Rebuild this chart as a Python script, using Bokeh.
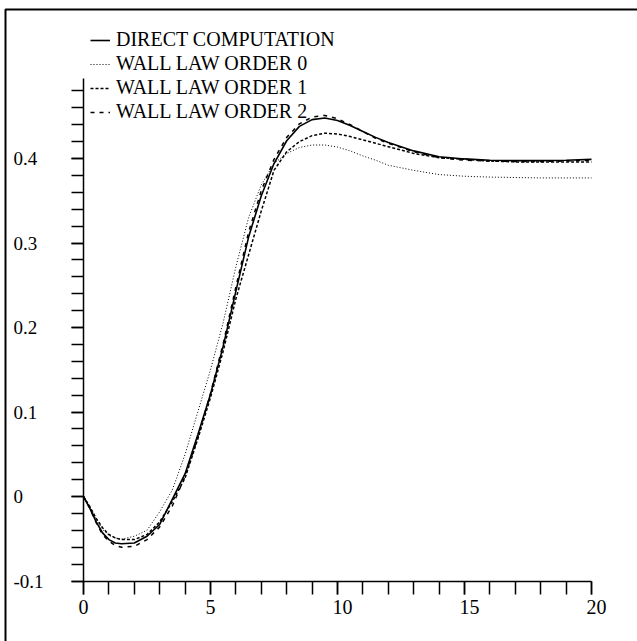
from bokeh.plotting import figure
from bokeh.models import (Range1d, SingleIntervalTicker, CustomJSTickFormatter, Label,
                          Legend, LegendItem, BoxAnnotation)
from bokeh.embed import file_html
from bokeh.resources import INLINE

# ---------------- data ----------------
x_vals = [0, 0.25, 0.5, 0.75, 1.0, 1.25, 1.5, 2.0, 2.5, 3.0, 3.5, 4.0, 4.5, 5.0, 5.5,
          6.0, 6.5, 7.0, 7.5, 8.0, 8.5, 9.0, 9.5, 10.0, 10.5, 11.0, 11.5, 12.0, 13.0,
          14.0, 15.0, 16.0, 17.0, 18.0, 19.0, 20.0]

direct = [0, -0.014, -0.030, -0.043, -0.051, -0.055, -0.056, -0.055, -0.047, -0.033,
          -0.003, 0.027, 0.073, 0.121, 0.178, 0.243, 0.307, 0.356, 0.394, 0.421, 0.438,
          0.446, 0.448, 0.445, 0.439, 0.432, 0.425, 0.419, 0.409, 0.402, 0.3995, 0.398,
          0.3975, 0.3975, 0.398, 0.399]

order0 = [0, -0.012, -0.027, -0.039, -0.046, -0.049, -0.0505, -0.047, -0.040, -0.018,
          0.008, 0.050, 0.100, 0.150, 0.206, 0.272, 0.330, 0.369, 0.394, 0.406, 0.413,
          0.416, 0.416, 0.4135, 0.409, 0.403, 0.398, 0.392, 0.386, 0.381, 0.379, 0.378,
          0.3775, 0.377, 0.377, 0.377]

order1 = [0, -0.012, -0.026, -0.037, -0.045, -0.049, -0.051, -0.051, -0.045, -0.030,
          -0.006, 0.022, 0.068, 0.117, 0.172, 0.234, 0.286, 0.338, 0.386, 0.408, 0.420,
          0.427, 0.430, 0.429, 0.426, 0.422, 0.418, 0.414, 0.406, 0.401, 0.399, 0.397,
          0.396, 0.396, 0.396, 0.396]

order2 = [0, -0.014, -0.031, -0.045, -0.053, -0.058, -0.060, -0.059, -0.051, -0.036,
          -0.011, 0.024, 0.070, 0.122, 0.181, 0.248, 0.313, 0.362, 0.399, 0.425, 0.441,
          0.449, 0.451, 0.447, 0.440, 0.432, 0.424, 0.418, 0.408, 0.401, 0.398, 0.397,
          0.3965, 0.3965, 0.397, 0.398]

series_names = ["DIRECT COMPUTATION", "WALL LAW ORDER 0", "WALL LAW ORDER 1", "WALL LAW ORDER 2"]

x_tick_values = [0, 5, 10, 15, 20]
x_tick_labels = ["0", "5", "10", "15", "20"]
y_tick_values = [-0.1, 0.0, 0.1, 0.2, 0.3, 0.4]
y_tick_labels = ["-0.1", "0", "0.1", "0.2", "0.3", "0.4"]

# ---------------- layout ----------------
W, H = 637, 641
X_ZERO_PX, X_PX_PER_UNIT = 83.0, 25.4     # pixel of x = 0, pixels per x unit
Y_ZERO_PX, Y_PX_PER_UNIT = 496.0, 845.0   # pixel of y = 0, pixels per y unit
X_MIN, X_MAX = 0.0, 20.0
Y_MIN, Y_AXIS_TOP = -0.1, 0.495
FONT = "Liberation Serif"


def px_to_x(px):
    return (px - X_ZERO_PX) / X_PX_PER_UNIT


def py_to_y(py):
    return (Y_ZERO_PX - py) / Y_PX_PER_UNIT


p = figure(width=W, height=H,
           x_range=Range1d(px_to_x(0), px_to_x(W)),
           y_range=Range1d(py_to_y(H), py_to_y(0)),
           min_border_left=0, min_border_right=0, min_border_top=0, min_border_bottom=0,
           output_backend="svg", toolbar_location=None,
           background_fill_color="white", border_fill_color="white")
p.grid.visible = False
p.outline_line_color = None

empty = CustomJSTickFormatter(code="return ''")

xa = p.xaxis[0]
xa.fixed_location = Y_MIN
xa.bounds = (X_MIN, X_MAX)
xa.ticker = SingleIntervalTicker(interval=5, num_minor_ticks=5)
xa.formatter = empty
xa.axis_line_width = 1.5
xa.axis_line_color = "black"
xa.major_tick_in = 0
xa.minor_tick_in = 0
xa.major_tick_out = 13
xa.minor_tick_out = 13
xa.major_tick_line_width = 1.5
xa.minor_tick_line_width = 1.5
xa.major_tick_line_color = "black"
xa.minor_tick_line_color = "black"

ya = p.yaxis[0]
ya.fixed_location = X_MIN
ya.bounds = (Y_MIN, Y_AXIS_TOP)
ya.ticker = SingleIntervalTicker(interval=0.1, num_minor_ticks=5)
ya.formatter = empty
ya.axis_line_width = 1.5
ya.axis_line_color = "black"
ya.major_tick_in = 0
ya.minor_tick_in = 0
ya.major_tick_out = 12
ya.minor_tick_out = 12
ya.major_tick_line_width = 1.5
ya.minor_tick_line_width = 1.5
ya.major_tick_line_color = "black"
ya.minor_tick_line_color = "black"

# ---------------- curves ----------------
r_d = p.line(x_vals, direct, line_color="black", line_width=1.6)
r_0 = p.line(x_vals, order0, line_color="black", line_width=1.0, line_dash="1 2")
r_1 = p.line(x_vals, order1, line_color="black", line_width=1.5, line_dash="3 2")
r_2 = p.line(x_vals, order2, line_color="black", line_width=1.5, line_dash="4 5")

ROW_H, ROW_GAP = 22, 1
legend_h = 4 * ROW_H + 3 * ROW_GAP
legend_top_px = 32
legend = Legend(items=[LegendItem(label=n, renderers=[r]) for n, r in
                       zip(series_names, [r_d, r_0, r_1, r_2])],
                location=(90, H - legend_top_px - legend_h), padding=0, margin=0,
                spacing=ROW_GAP, glyph_width=20, glyph_height=ROW_H, label_height=ROW_H,
                label_standoff=6, label_text_font=FONT, label_text_font_size="20px",
                label_text_color="black",
                border_line_color=None, background_fill_alpha=0)
p.add_layout(legend)

# ---------------- tick labels ----------------
for v, t in zip(y_tick_values, y_tick_labels):
    p.add_layout(Label(x=px_to_x(13), y=v, text=t, text_align="left",
                       text_baseline="middle", text_font=FONT,
                       text_font_size="19px", text_color="black"))
for v, t in zip(x_tick_values, x_tick_labels):
    p.add_layout(Label(x=v, y=py_to_y(606), x_offset=-5, text=t, text_align="left",
                       text_baseline="alphabetic", text_font=FONT,
                       text_font_size="20px", text_color="black"))

# ---------------- outer frame (left and top edges) ----------------
p.add_layout(BoxAnnotation(left=px_to_x(5), right=px_to_x(W + 5), top=py_to_y(9),
                           bottom=py_to_y(H + 5), fill_color=None, fill_alpha=0,
                           line_color="black", line_alpha=1.0, line_width=2))

open("out.html", "w").write(file_html(p, INLINE))
